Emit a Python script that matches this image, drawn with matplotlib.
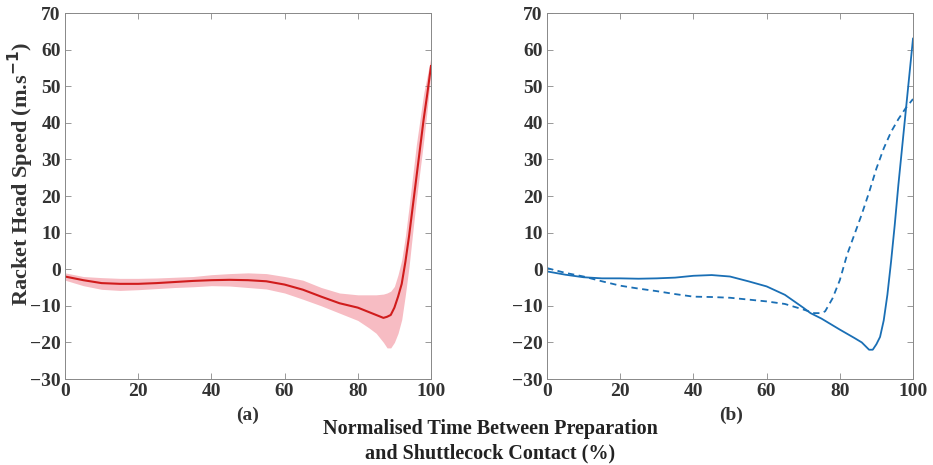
import numpy as np
import matplotlib
matplotlib.use("Agg")
import matplotlib.pyplot as plt

# (a) mean racket head speed with variability band
x_a = [0, 5, 10, 15, 20, 25, 30, 35, 40, 45, 50, 55, 60, 65, 70, 75, 80, 83, 85,
       87, 88, 89, 90, 91, 92, 93, 94, 95, 96, 97, 98, 99, 100]
mean_a = [-2, -3, -3.8, -4, -4, -3.8, -3.5, -3.2, -3, -2.9, -3, -3.3, -4.2, -5.6, -7.5,
          -9.3, -10.5, -11.7, -12.5, -13.3, -13, -12.5, -10.5, -7.5, -4, 2, 9, 17,
          25, 33, 41, 48, 55.5]
upper_a = [-1, -2, -2.3, -2.5, -2.5, -2.4, -2.2, -2, -1.5, -1.2, -1, -1.2, -2, -3,
           -5, -6.5, -7, -7, -7, -6.8, -6.5, -6, -4.7, -1.5, 2.5, 9, 17, 25.5, 34,
           41, 48, 53, 58]
lower_a = [-3, -4.5, -5.5, -5.8, -5.6, -5.3, -5, -4.8, -4.5, -4.6, -5, -5.4, -6.5,
           -8.2, -10, -12, -14, -16, -17.5, -20, -21.5, -21.5, -20, -17.5, -13.8,
           -7, 0.7, 10, 19, 27, 35, 44, 53.5]

# (b) two individual trials
x_b = [0, 5, 10, 15, 20, 25, 30, 35, 40, 45, 50, 55, 60, 65, 70, 72, 75, 80, 84,
       86, 87, 88, 89, 90, 91, 92, 93, 94, 95, 96, 97, 98, 99, 100]
solid_b = [-0.6, -1.5, -2.2, -2.5, -2.5, -2.6, -2.5, -2.3, -1.8, -1.6, -2, -3.3,
           -4.7, -7, -10.5, -12, -13.5, -16.5, -18.8, -20, -21, -22, -22, -20.5,
           -18.5, -14, -7, 2, 12, 23, 33, 43, 53, 63]
x_d = [0, 5, 10, 15, 20, 25, 30, 35, 40, 45, 50, 55, 60, 65, 70, 73, 75, 76, 78,
       80, 82, 84, 86, 88, 90, 92, 94, 96, 98, 100]
dashed_b = [0.3, -1, -2, -3.3, -4.5, -5.3, -6, -6.8, -7.5, -7.6, -7.8, -8.3, -8.8,
            -9.5, -11, -12, -12, -11.5, -8, -3, 4, 9.5, 15, 21, 27.5, 33, 37.5,
            41, 44, 46.5]

yticks = list(range(-30, 71, 10))
ytick_labels = [str(v).replace("-", "\u2212") for v in yticks]

red = "#d01c1c"
pink = "#f7bcc3"
blue = "#1a6fb5"
tick_col = "#333333"

plt.rcParams["font.family"] = ["Liberation Serif", "DejaVu Serif"]
plt.rcParams["font.weight"] = "bold"

fig = plt.figure(figsize=(9.33, 4.65), dpi=100)
W, H = 933, 465
ax1 = fig.add_axes([65 / W, 1 - 379 / H, 366 / W, 366 / H])
ax2 = fig.add_axes([547 / W, 1 - 379 / H, 366 / W, 366 / H])

ax1.fill_between(x_a, lower_a, upper_a, color=pink, linewidth=0)
ax1.plot(x_a, mean_a, color=red, lw=1.5)

ax2.plot(x_b, solid_b, color=blue, lw=1.3)
ax2.plot(x_d, dashed_b, color=blue, lw=1.3, ls=(0, (3.5, 2.5)))

for ax in (ax1, ax2):
    ax.set_xlim(0, 100)
    ax.set_ylim(-30, 70)
    ax.set_xticks([0, 20, 40, 60, 80, 100])
    ax.set_yticks(yticks)
    ax.set_yticklabels(ytick_labels)
    ax.tick_params(direction="in", top=True, right=True, length=4, width=0.6,
                   colors="#888888", labelcolor=tick_col, labelsize=14, pad=3)
    for lab in ax.get_xticklabels() + ax.get_yticklabels():
        lab.set_fontweight("bold")
    for s in ax.spines.values():
        s.set_color("#888888")
        s.set_linewidth(0.7)

# y label placed in figure pixels, like the reference
fig.text(21 / W, 1 - 174 / H, "Racket Head Speed (m.s$^{\\mathbf{-1}}$)",
         rotation=90, ha="center", va="center", fontsize=16,
         fontweight="bold", color=tick_col)

fig.text(248 / W, 1 - 415 / H, "(a)", ha="center", va="center", fontsize=14,
         fontweight="bold", color=tick_col)
fig.text(731 / W, 1 - 415 / H, "(b)", ha="center", va="center", fontsize=14,
         fontweight="bold", color=tick_col)
fig.text(490 / W, 1 - 429 / H, "Normalised Time Between Preparation",
         ha="center", va="center", fontsize=14.5, fontweight="bold", color="#222222")
fig.text(490 / W, 1 - 453 / H, "and Shuttlecock Contact (%)",
         ha="center", va="center", fontsize=14.5, fontweight="bold", color="#222222")

fig.savefig("out.png", dpi=100)
